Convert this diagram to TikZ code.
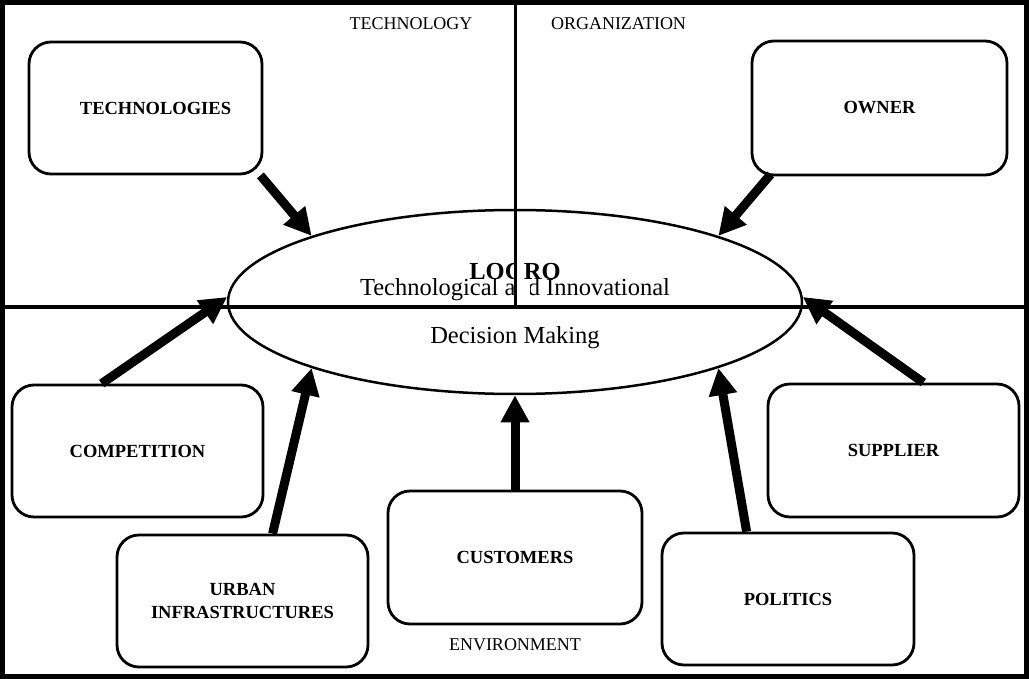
\documentclass[tikz,border=0pt]{standalone}
\usepackage{fontspec}
\setmainfont{Liberation Serif}
\usetikzlibrary{shapes.geometric,arrows.meta,calc}
\begin{document}
\begin{tikzpicture}[x=1pt,y=-1pt,
  box/.style={draw,line width=2.8pt,rounded corners=22pt,inner sep=0pt,align=center,
    font=\fontsize{18.5}{23}\selectfont\bfseries},
  arr/.style={line width=9pt,-{Triangle[length=27pt,width=27pt]}},
  region/.style={inner sep=0pt,font=\fontsize{18}{20}\selectfont},
  etext/.style={inner sep=0pt,anchor=base,font=\fontsize{24.5}{26}\selectfont},
  mask/.style={fill=white,draw=none}]
\useasboundingbox (0,0) rectangle (1029,679);
% frame
\draw[line width=4.5pt] (2.5,2.5) rectangle (1026.5,676.5);
% region labels
\node[region] (ltech) at (411,24) {TECHNOLOGY};
\node[region] (lorg) at (618.5,24) {ORGANIZATION};
\node[region] (lenv) at (515,645) {ENVIRONMENT};
% boxes
\node[box,minimum width=233pt,minimum height=132pt] (tech) at (145.5,108) {\hspace*{20pt}TECHNOLOGIES};
\node[box,minimum width=255pt,minimum height=134pt] (owner) at (879.5,108) {OWNER};
\node[box,minimum width=251pt,minimum height=132pt] (comp) at (137.5,451) {COMPETITION};
\node[box,minimum width=251pt,minimum height=133pt] (supp) at (893.5,450.5) {SUPPLIER};
\node[box,minimum width=251pt,minimum height=132pt] (urban) at (242.5,601) {URBAN\\INFRASTRUCTURES};
\node[box,minimum width=254pt,minimum height=133pt] (cust) at (515,557.5) {CUSTOMERS};
\node[box,minimum width=252pt,minimum height=132pt] (pol) at (788,599) {POLITICS};
% central ellipse
\node[draw,ellipse,line width=2.5pt,minimum width=574pt,minimum height=184pt,inner sep=0pt] (ell) at (515,302) {};
\node[etext,font=\fontsize{24.5}{26}\selectfont\bfseries] (logro) at (515,280) {LOGRO};
\node[etext] (techinno) at (515,296) {Technological and Innovational};
\node[etext] (dm) at (515,343) {Decision Making};
\fill[mask] (516.5,258) rectangle (523.5,282);
\fill[mask] (516.5,282) rectangle (529.5,303);
% dividers
\draw[line width=3pt] (515,3) -- (515,307);
\draw[line width=4pt] (3,307) -- (1026,307);
% arrows
\draw[arr] ($(tech.south east)+(-3,0)$) -- (ell.162);
\draw[arr] ($(owner.south west)+(20,-2)$) -- (ell.18);
\draw[arr] ($(comp.north west)+(91,0)$) -- (ell.179);
\draw[arr] ($(supp.north east)+(-97,0)$) -- (ell.1);
\draw[arr] ($(urban.north west)+(157,0)$) -- (ell.-162);
\draw[arr] (cust.north) -- (ell.-90);
\draw[arr] ($(pol.north west)+(86,0)$) -- (ell.-18);
\end{tikzpicture}
\end{document}
